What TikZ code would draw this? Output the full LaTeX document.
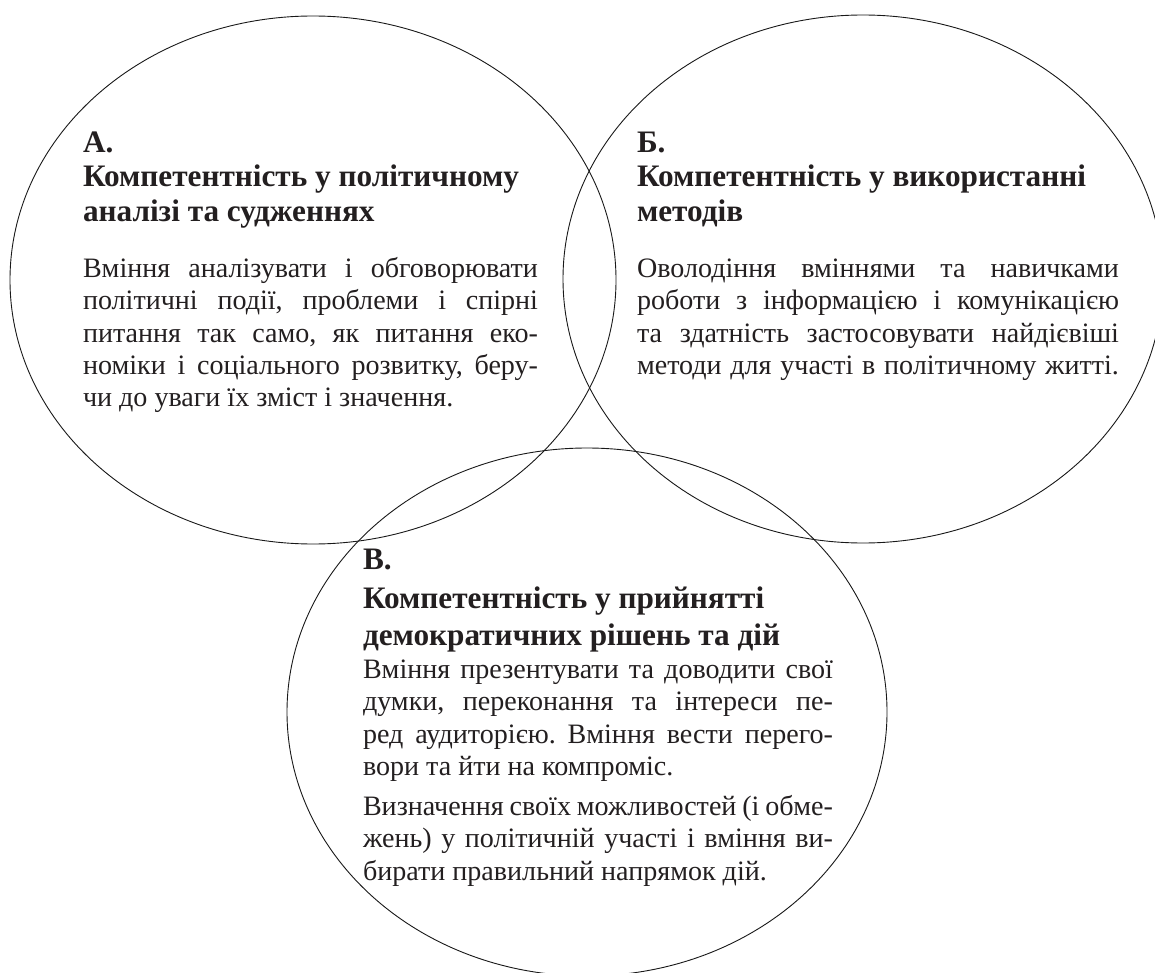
\documentclass[tikz,border=0pt]{standalone}
\usepackage{fontspec}
\setmainfont{Liberation Serif}
\definecolor{ink}{HTML}{231F20}
\newlength\mw
\newcommand\tenpt{\fontsize{10pt}{12pt}\selectfont}
\newcommand\fitw[3]{\settowidth\mw{\tenpt #3}\pgfmathsetmacro#1{10*#2/\mw}}
\frenchspacing
\begin{document}
\frenchspacing
\fitw\ha{437}{\bfseries Компетентність у політичному}%
\fitw\hb{448}{\bfseries Компетентність у використанні}%
\pgfmathsetmacro\hdsz{(\ha+\hb)/2}%
\pgfmathsetmacro\ltsz{\hdsz}%
\fitw\ra{455}{Вміння аналізувати і обговорювати}%
\fitw\rb{455}{політичні події, проблеми і спірні}%
\fitw\rc{455}{питання так само, як питання еко-}%
\fitw\rd{455}{номіки і соціального розвитку, беру-}%
\fitw\re{482}{Оволодіння вміннями та навичками}%
\fitw\rf{482}{роботи з інформацією і комунікацією}%
\fitw\rg{482}{та здатність застосовувати найдієвіші}%
\fitw\rh{482}{методи для участі в політичному житті.}%
\fitw\ri{470}{Вміння презентувати та доводити свої}%
\fitw\rj{470}{думки, переконання та інтереси пе-}%
\fitw\rk{470}{ред аудиторією. Вміння вести перего-}%
\fitw\rl{470}{Визначення своїх можливостей (і обме-}%
\fitw\rm{470}{жень) у політичній участі і вміння ви-}%
\pgfmathsetmacro\bdsz{1.01*min(\ra,\rb,\rc,\rd,\re,\rf,\rg,\rh,\ri,\rj,\rk,\rl,\rm)}%
\begin{tikzpicture}[x=1pt,y=-1pt,
  ring/.style={draw=black!90, line width=0.9pt},
  ln/.style={anchor=base west, inner sep=0pt, outer sep=0pt, text=ink},
  lett/.style={ln, font=\fontsize{\ltsz pt}{\ltsz pt}\selectfont\bfseries},
  hd/.style={ln, font=\fontsize{\hdsz pt}{\hdsz pt}\selectfont\bfseries},
  bd/.style={ln, font=\fontsize{\bdsz pt}{\bdsz pt}\selectfont\frenchspacing}]
\useasboundingbox (0,0) rectangle (1155,973);
\clip (0,0) rectangle (1155,973);
\fill[white] (0,0) rectangle (1155,973);

% circles
\draw[ring] (313,280) ellipse [x radius=303pt, y radius=264pt];
\draw[ring] (863,279) ellipse [x radius=300pt, y radius=264pt];
\draw[ring] (587,712) ellipse [x radius=300pt, y radius=264pt];

% A
\node[lett] (aL) at (83,153) {А.};
\node[hd] (aH1) at (83,187) {Компетентність у політичному};
\node[hd] (aH2) at (83,222) {аналізі та судженнях};
\node[bd] (a1) at (83,277) {\makebox[455pt][s]{Вміння аналізувати і обговорювати}};
\node[bd] (a2) at (83,309) {\makebox[455pt][s]{політичні події, проблеми і спірні}};
\node[bd] (a3) at (83,342) {\makebox[455pt][s]{питання так само, як питання еко-}};
\node[bd] (a4) at (83,374) {\makebox[455pt][s]{номіки і соціального розвитку, беру-}};
\node[bd] (a5) at (83,406) {чи до уваги їх зміст і значення.};

% B
\node[lett] (bL) at (637,153) {Б.};
\node[hd] (bH1) at (637,187) {Компетентність у використанні};
\node[hd] (bH2) at (637,222) {методів};
\node[bd] (b1) at (637,277) {\makebox[482pt][s]{Оволодіння вміннями та навичками}};
\node[bd] (b2) at (637,309) {\makebox[482pt][s]{роботи з інформацією і комунікацією}};
\node[bd] (b3) at (637,342) {\makebox[482pt][s]{та здатність застосовувати найдієвіші}};
\node[bd] (b4) at (637,374) {\makebox[482pt][s]{методи для участі в політичному житті.}};

% C
\node[lett] (cL) at (363,569) {В.};
\node[hd] (cH1) at (363,608) {Компетентність у прийнятті};
\node[hd] (cH2) at (363,645) {демократичних рішень та дій};
\node[bd] (c1) at (363,678) {\makebox[470pt][s]{Вміння презентувати та доводити свої}};
\node[bd] (c2) at (363,710) {\makebox[470pt][s]{думки, переконання та інтереси пе-}};
\node[bd] (c3) at (363,743) {\makebox[470pt][s]{ред аудиторією. Вміння вести перего-}};
\node[bd] (c4) at (363,775) {вори та йти на компроміс.};
\node[bd] (c5) at (363,815) {\makebox[470pt][s]{Визначення своїх можливостей (і обме-}};
\node[bd] (c6) at (363,847) {\makebox[470pt][s]{жень) у політичній участі і вміння ви-}};
\node[bd] (c7) at (363,880) {бирати правильний напрямок дій.};
\end{tikzpicture}
\end{document}
